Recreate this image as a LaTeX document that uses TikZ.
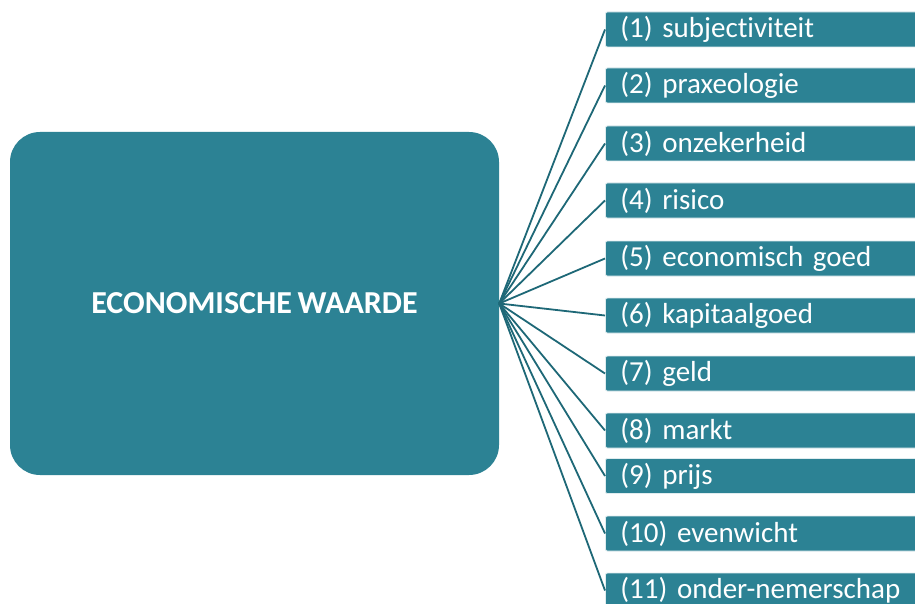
\documentclass[tikz,border=0pt]{standalone}
\usepackage{fontspec}
\setmainfont{Carlito}[Ligatures=NoCommon,WordSpace=0.8]
\definecolor{tealbox}{RGB}{44,130,148}
\definecolor{tealline}{RGB}{30,104,119}
\tikzset{
  mainbox/.style={fill=tealbox,draw=none,rounded corners=30pt,minimum width=489pt,
    minimum height=343pt,text=white,font=\fontsize{32}{36}\selectfont\bfseries},
  itembox/.style={fill=tealbox,draw=white!85!tealbox,line width=0.8pt,rounded corners=2pt,anchor=west,
    minimum height=35pt,text width=300pt,align=left,inner xsep=15pt,inner ysep=0pt,
    text=white,font=\fontsize{29}{32}\selectfont},
  spoke/.style={draw=tealline,line width=1.8pt}
}
\begin{document}
\begin{tikzpicture}[x=1pt,y=-1pt]
\clip (0,0) rectangle (915,604);
\fill[white] (0,0) rectangle (915,604);

\node[mainbox] (val) at (254.5,303.5) {ECONOMISCHE WAARDE};

\node[itembox] (n1) at (605,29.5) {(1) subjectiviteit};
\node[itembox] (n2) at (605,85.5) {(2) praxeologie};
\node[itembox] (n3) at (605,143.5) {(3) onzekerheid};
\node[itembox] (n4) at (605,200.5) {(4) risico};
\node[itembox] (n5) at (605,258.5) {(5) economisch goed};
\node[itembox] (n6) at (605,315.5) {(6) kapitaalgoed};
\node[itembox] (n7) at (605,373.5) {(7) geld};
\node[itembox] (n8) at (605,430.5) {(8) markt};
\node[itembox] (n9) at (605,476) {(9) prijs};
\node[itembox] (n10) at (605,533.5) {(10) evenwicht};
\node[itembox] (n11) at (605,590.5) {(11) onder-nemerschap};

%spokes from the value box
\draw[spoke] (val.east) -- (n1.west);
\draw[spoke] (val.east) -- (n2.west);
\draw[spoke] (val.east) -- (n3.west);
\draw[spoke] (val.east) -- (n4.west);
\draw[spoke] (val.east) -- (n5.west);
\draw[spoke] (val.east) -- (n6.west);
\draw[spoke] (val.east) -- (n7.west);
\draw[spoke] (val.east) -- (n8.west);
\draw[spoke] (val.east) -- (n9.west);
\draw[spoke] (val.east) -- (n10.west);
\draw[spoke] (val.east) -- (n11.west);
\end{tikzpicture}
\end{document}
